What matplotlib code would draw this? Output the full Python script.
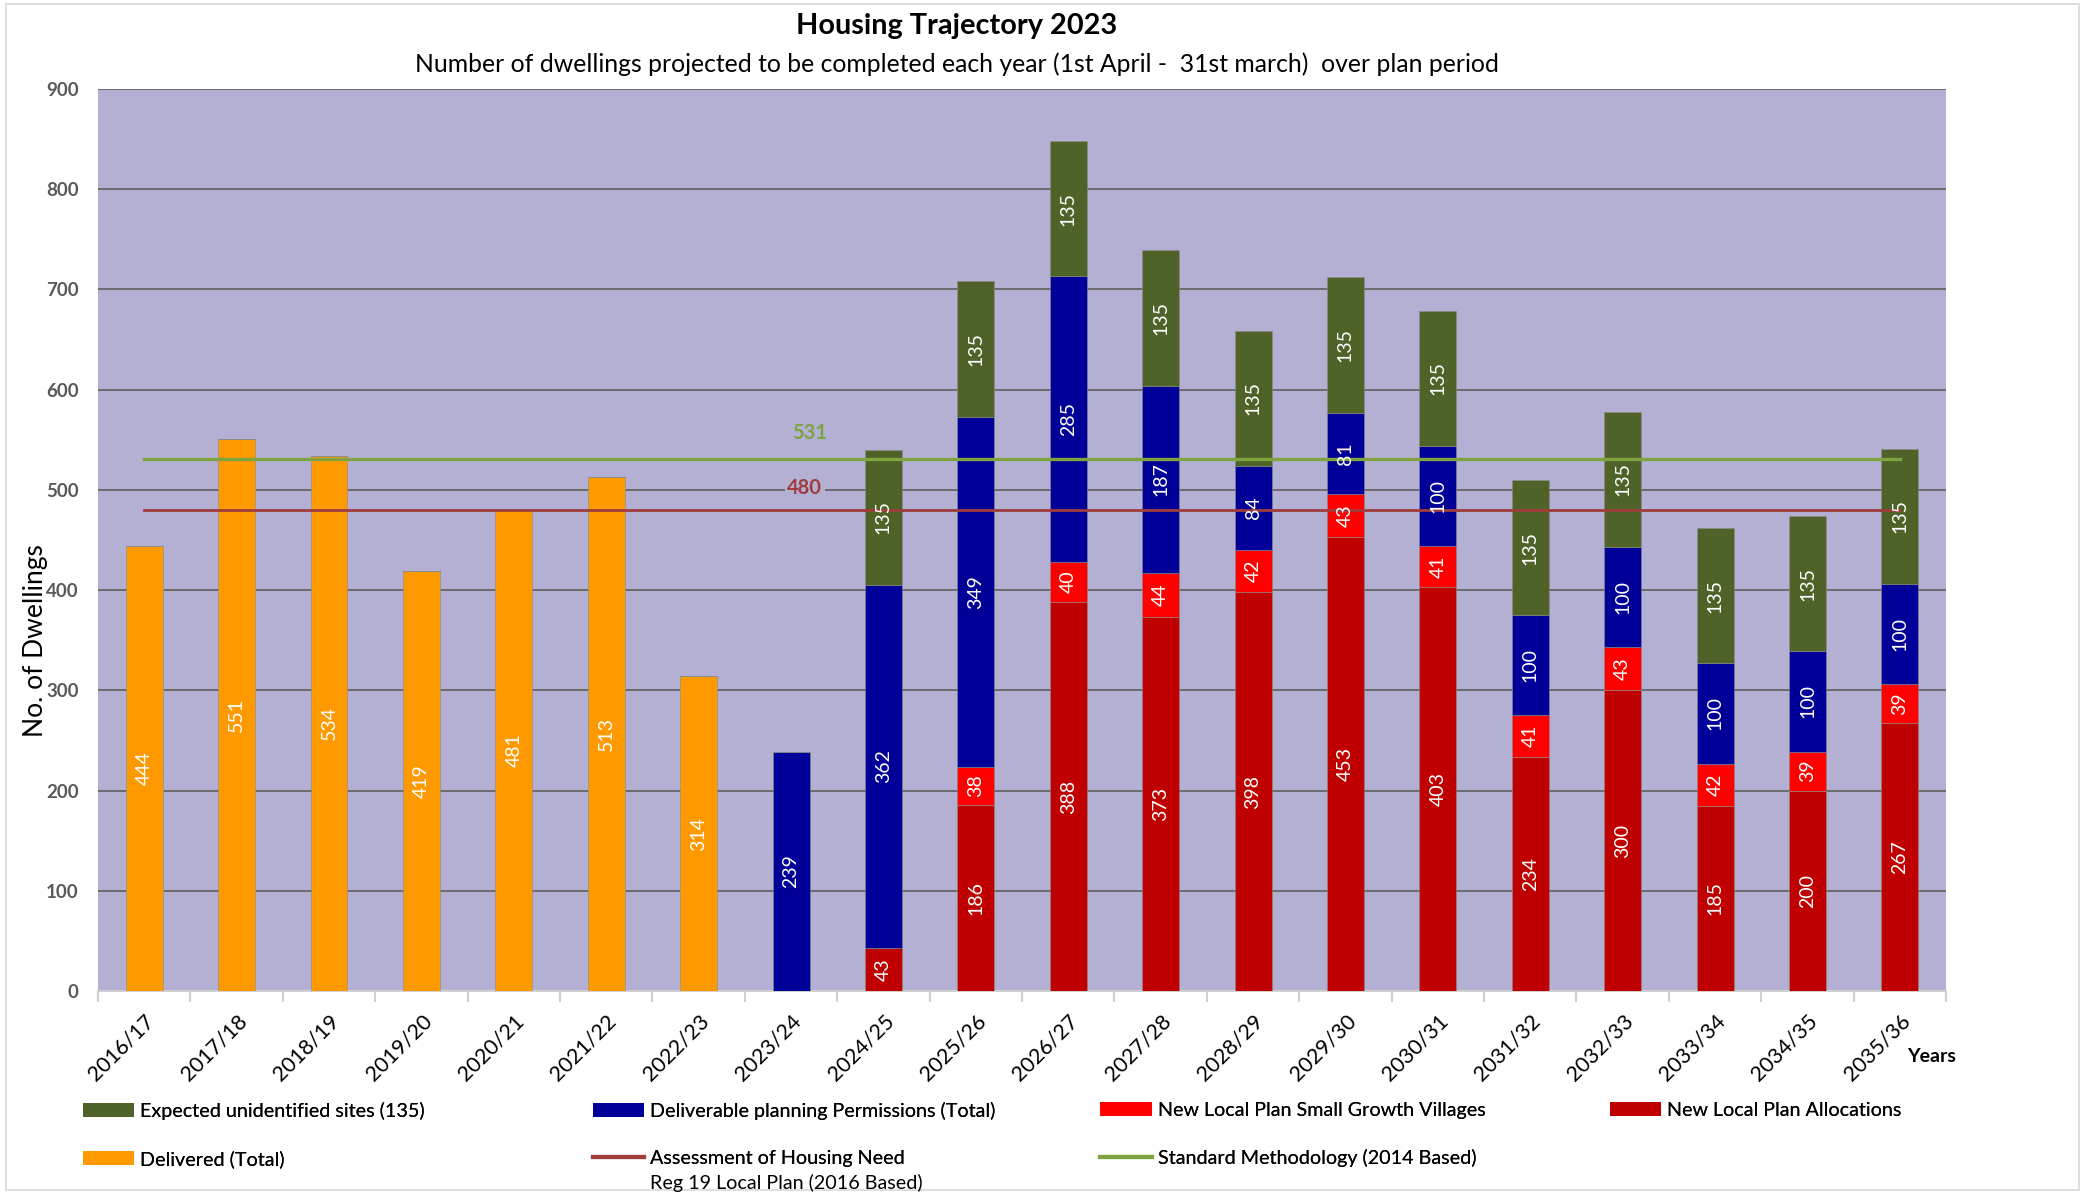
import matplotlib
matplotlib.use("Agg")
import matplotlib.pyplot as plt
from matplotlib.patches import Patch, Rectangle
from matplotlib.lines import Line2D
import numpy as np

plt.rcParams["font.family"] = ["Lato", "DejaVu Sans"]

years = ["2016/17", "2017/18", "2018/19", "2019/20", "2020/21", "2021/22", "2022/23",
         "2023/24", "2024/25", "2025/26", "2026/27", "2027/28", "2028/29", "2029/30",
         "2030/31", "2031/32", "2032/33", "2033/34", "2034/35", "2035/36"]
delivered = [444, 551, 534, 419, 481, 513, 314, 0, 0, 0, 0, 0, 0, 0, 0, 0, 0, 0, 0, 0]
allocations = [0, 0, 0, 0, 0, 0, 0, 0, 43, 186, 388, 373, 398, 453, 403, 234, 300, 185, 200, 267]
small_villages = [0, 0, 0, 0, 0, 0, 0, 0, 0, 38, 40, 44, 42, 43, 41, 41, 43, 42, 39, 39]
permissions = [0, 0, 0, 0, 0, 0, 0, 239, 362, 349, 285, 187, 84, 81, 100, 100, 100, 100, 100, 100]
unidentified = [0, 0, 0, 0, 0, 0, 0, 0, 135, 135, 135, 135, 135, 135, 135, 135, 135, 135, 135, 135]
need_2016 = 480
std_2014 = 531

C_DELIV = "#ff9900"
C_ALLOC = "#c00000"
C_SMALL = "#ff0000"
C_PERM = "#000099"
C_UNID = "#4f6228"
C_NEED = "#a03c3c"
C_STD = "#7ea33f"
BG = "#b4b0d4"

fig = plt.figure(figsize=(20.89, 11.92), dpi=100)
ax = fig.add_axes([0.0469, 0.1686, 0.8847, 0.7567])
ax.set_facecolor(BG)

x = np.arange(len(years))
w = 0.4
stacks = [(delivered, C_DELIV), (allocations, C_ALLOC), (small_villages, C_SMALL),
          (permissions, C_PERM), (unidentified, C_UNID)]
bottom = np.zeros(len(years))
for vals, col in stacks:
    vals = np.array(vals, dtype=float)
    ax.bar(x, vals, w, bottom=bottom, color=col, edgecolor="#8c8c8c", linewidth=0.4, zorder=3)
    for xi, v, b in zip(x, vals, bottom):
        if v > 0:
            ax.text(xi, b + v / 2, f"{int(v)}", rotation=90, ha="center", va="center",
                    color="white", fontsize=14, zorder=5)
    bottom += vals

ax.plot([x[0], x[-1]], [std_2014, std_2014], color=C_STD, lw=2.4, zorder=4)
ax.plot([x[0], x[-1]], [need_2016, need_2016], color=C_NEED, lw=2.0, zorder=4)
ax.text(7.2, 557, f"{std_2014}", color=C_STD, fontsize=14.5, fontweight="bold",
        ha="center", va="center", zorder=5)
ax.text(7.15, 502, f"{need_2016}", color=C_NEED, fontsize=14.5, fontweight="bold",
        ha="center", va="center", zorder=5,
        bbox=dict(facecolor=BG, edgecolor="none", pad=2))

ax.set_xlim(-0.5, len(years) - 0.5)
ax.set_ylim(0, 900)
ax.set_yticks(range(0, 901, 100))
ax.yaxis.grid(True, color="#666666", lw=1.3, zorder=1)
ax.set_axisbelow(True)
for s in ["top", "right", "left"]:
    ax.spines[s].set_visible(False)
ax.spines["bottom"].set_color("#d0d0d0")
ax.spines["bottom"].set_linewidth(1.5)
ax.tick_params(axis="y", length=0, labelsize=13.5, labelcolor="#595959", pad=14)
for lab in ax.get_yticklabels():
    lab.set_fontweight("bold")
ax.set_xticks(x)
ax.set_xticklabels(years, rotation=45, ha="right", rotation_mode="anchor", fontsize=15.5)
ax.tick_params(axis="x", which="major", length=0, pad=14)
ax.set_xticks(np.arange(-0.5, len(years), 1), minor=True)
ax.tick_params(axis="x", which="minor", length=8, color="#d0d0d0", width=1.5)

ax.set_ylabel("No. of Dwellings", fontsize=19)
ax.yaxis.set_label_coords(-0.027, 0.388)

fig.text(0.458, 0.978, "Housing Trajectory 2023", ha="center", va="center",
         fontsize=20.8, fontweight="bold")
fig.text(0.458, 0.9465,
         "Number of dwellings projected to be completed each year (1st April -  31st march)  over plan period",
         ha="center", va="center", fontsize=17.8)
fig.text(0.9245, 0.114, "Years", ha="center", va="center", fontsize=14, fontweight="bold")

# chart border
fig.add_artist(Rectangle((0.003, 0.002), 0.992, 0.995, transform=fig.transFigure,
                         fill=False, edgecolor="#d9d9d9", lw=1.2))

# legend, four columns (Excel style layout)
def patch(c):
    return Patch(facecolor=c, edgecolor="none")

columns = [
    (0.035, [patch(C_UNID), patch(C_DELIV)], ["Expected unidentified sites (135)", "Delivered (Total)"]),
    (0.279, [patch(C_PERM), Line2D([], [], color=C_NEED, lw=3)],
     ["Deliverable planning Permissions (Total)", "Assessment of Housing Need"]),
    (0.522, [patch(C_SMALL), Line2D([], [], color=C_STD, lw=3)],
     ["New Local Plan Small Growth Villages", "Standard Methodology (2014 Based)"]),
    (0.766, [patch(C_ALLOC)], ["New Local Plan Allocations"]),
]
legs = []
for xpos, hs, ls in columns:
    leg = fig.legend(hs, ls, loc="upper left", bbox_to_anchor=(xpos, 0.084),
                     frameon=False, fontsize=14.2, handlelength=2.6, handleheight=0.7,
                     handletextpad=0.3, labelspacing=1.55, borderpad=0)
    fig.add_artist(leg)
    legs.append(leg)

# second line of the "Assessment of Housing Need" entry
fig.canvas.draw()
t = legs[1].get_texts()[1]
bb = t.get_window_extent().transformed(fig.transFigure.inverted())
fig.text(bb.x0, bb.y0 - 0.0055, "Reg 19 Local Plan (2016 Based)", ha="left", va="top",
         fontsize=14.2)

fig.savefig("out.png", dpi=100)
